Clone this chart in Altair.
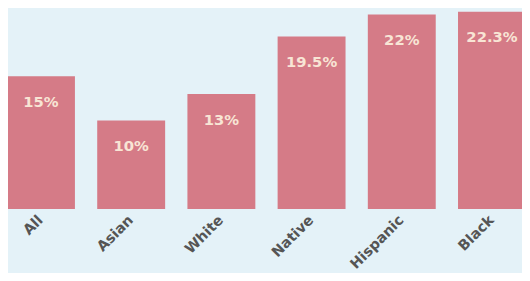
import altair as alt
import pandas as pd

groups = ["All", "Asian", "White", "Native", "Hispanic", "Black"]
values = [15, 10, 13, 19.5, 22, 22.3]
labels = ["15%", "10%", "13%", "19.5%", "22%", "22.3%"]

df = pd.DataFrame({"group": groups, "value": values, "label": labels})

x = alt.X("group:N", sort=groups, title=None,
          scale=alt.Scale(paddingInner=0.247, paddingOuter=0, range=[-1, 526]),
          axis=alt.Axis(labelAngle=-45, labelFont="DejaVu Sans", labelFontWeight="bold",
                        labelFontSize=14.5, labelColor="#555555", ticks=False, domain=False,
                        labelPadding=9, labelAlign="right", labelBaseline="middle"))
y = alt.Y("value:Q", scale=alt.Scale(domain=[0, 22.5], nice=False), axis=None)

bars = alt.Chart(df).mark_bar(color="#d57b87").encode(x=x, y=y)
text = alt.Chart(df).mark_text(dy=26, baseline="middle", font="DejaVu Sans", fontWeight="bold",
                               fontSize=15, color="#f8e5d5").encode(x=x, y=y, text="label:N")

chart = (bars + text).properties(
    width=522, height=202,
    autosize=alt.AutoSizeParams(type="none"),
    padding={"left": 0, "top": 0, "right": 0, "bottom": 63},
    background="#e4f2f8",
).configure_view(stroke=None)

chart.save("out.html", embed_options={"renderer": "svg", "actions": False})
